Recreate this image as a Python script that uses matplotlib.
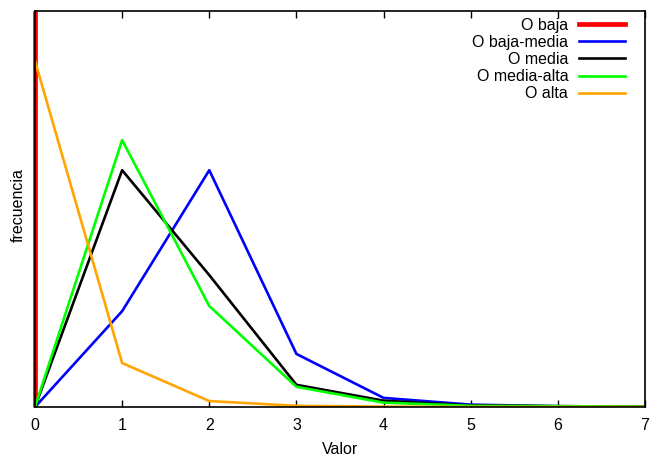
import matplotlib
matplotlib.use('Agg')
import matplotlib.pyplot as plt

plt.rcParams['font.family'] = ['Liberation Sans', 'DejaVu Sans']

# Frecuencia relativa de cada valor por grupo
valores = [0, 1, 2, 3, 4, 5, 6, 7]
o_baja = [1.0, 0, 0, 0, 0, 0, 0, 0]
o_baja_media = [0, 0.242, 0.598, 0.134, 0.023, 0.006, 0.002, 0.001]
o_media = [0, 0.598, 0.333, 0.056, 0.016, 0.004, 0.002, 0.001]
o_media_alta = [0, 0.674, 0.255, 0.051, 0.011, 0.003, 0.002, 0.001]
o_alta = [0.874, 0.111, 0.015, 0.003, 0.001, 0, 0, 0]

etiquetas = ['O baja', 'O baja-media', 'O media', 'O media-alta', 'O alta']
colores = ['#ff0000', '#0000ff', '#000000', '#00ff00', '#ffa500']
anchos = [3.4, 1.9, 1.9, 1.9, 1.9]

fig = plt.figure(figsize=(6.52, 4.60), dpi=100)
ax = fig.add_axes([35 / 652, 52 / 460, 610 / 652, 396 / 460])

# O baja se dibuja como impulsos
ax.vlines(valores, 0, o_baja, color=colores[0], lw=anchos[0], zorder=2,
          clip_on=False)
series = [o_baja_media, o_media, o_media_alta, o_alta]
for s, c, w in zip(series, colores[1:], anchos[1:]):
    ax.plot(valores, s, color=c, lw=w, zorder=3)

ax.set_xlim(0, 7)
ax.set_ylim(0, 1)
ax.set_xticks(valores)
ax.set_yticks([])
ax.tick_params(axis='x', direction='in', length=5, width=1, top=True,
               labelsize=11.5, pad=7)
for sp in ax.spines.values():
    sp.set_linewidth(1.2)
    sp.set_zorder(5)

fig.text(340 / 652, 1 - 450 / 460, 'Valor', ha='center', va='center', fontsize=11.5)
fig.text(18 / 652, 1 - 205 / 460, 'frecuencia', ha='center', va='center',
         rotation=90, fontsize=11.5)

# leyenda con el texto alineado a la derecha
y0 = 0.967
paso = 0.0434
for i, (lab, c, w) in enumerate(zip(etiquetas, colores, anchos)):
    y = y0 - i * paso
    ax.text(0.874, y, lab, transform=ax.transAxes, ha='right', va='center',
            fontsize=11.5)
    ax.plot([0.892, 0.967], [y, y], transform=ax.transAxes, color=c, lw=w,
            clip_on=False, zorder=6)

fig.savefig('out.png', dpi=100)
